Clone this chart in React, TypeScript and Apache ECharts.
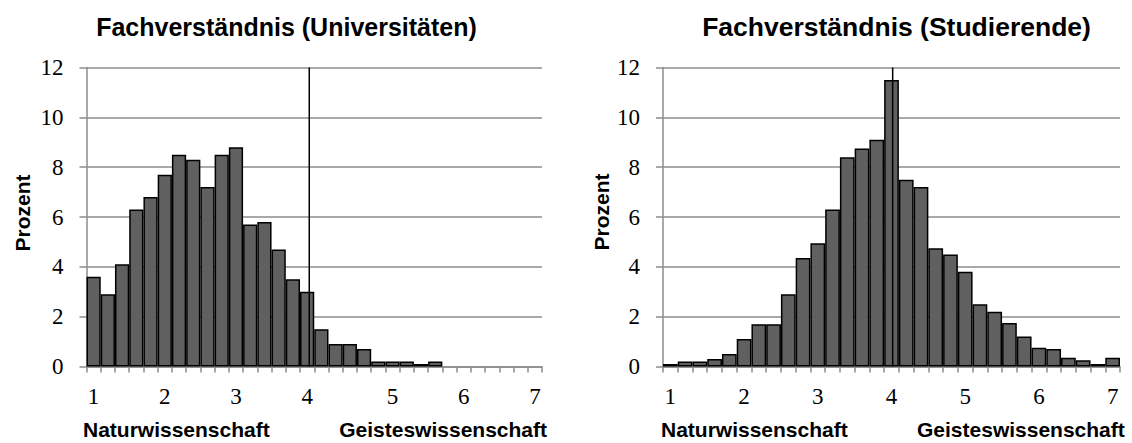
import React, { useEffect, useRef } from "react";
import * as echarts from "echarts";

const leftTitle = "Fachverständnis (Universitäten)";
const rightTitle = "Fachverständnis (Studierende)";
const yTitle = "Prozent";
const xLeftName = "Naturwissenschaft";
const xRightName = "Geisteswissenschaft";

const leftValues = [3.6, 2.9, 4.1, 6.3, 6.8, 7.7, 8.5, 8.3, 7.2, 8.5, 8.8, 5.7, 5.8, 4.7, 3.5, 3.0, 1.5, 0.9, 0.9, 0.7, 0.2, 0.2, 0.2, 0.1, 0.2, 0, 0, 0, 0, 0, 0, 0];
const leftTickText = ["1", "", "", "", "", "2", "", "", "", "", "3", "", "", "", "", "4", "", "", "", "", "", "5", "", "", "", "", "6", "", "", "", "", "7"];

const rightValues = [0.1, 0.2, 0.2, 0.3, 0.5, 1.1, 1.7, 1.7, 2.9, 4.35, 4.95, 6.3, 8.4, 8.75, 9.1, 11.5, 7.5, 7.2, 4.75, 4.5, 3.8, 2.5, 2.2, 1.75, 1.2, 0.75, 0.7, 0.35, 0.25, 0.1, 0.35];
const rightTickText = ["1", "", "", "", "", "2", "", "", "", "", "3", "", "", "", "", "4", "", "", "", "", "5", "", "", "", "", "6", "", "", "", "", "7"];

// position of the reference line "4" in bin units
const leftRefBin = 15.65;
const rightRefBin = 15.58;

const yTicks = [0, 2, 4, 6, 8, 10, 12];

const GRID_COLOR = "#8c8c8c";
const SERIF = "Liberation Serif";
const SANS = "Liberation Sans";

export default function App() {
  const ref = useRef<HTMLDivElement>(null);
  useEffect(() => {
    if (!ref.current) return;
    const chart = echarts.init(ref.current, undefined, { renderer: "svg" });

    const makeX = (gridIndex: number, tickText: string[]) => ({
      type: "category",
      gridIndex,
      data: tickText.map((_, i) => String(i)),
      boundaryGap: true,
      axisLine: { show: true, lineStyle: { color: GRID_COLOR, width: 1.5 } },
      axisTick: { show: true, interval: 0, length: 6, lineStyle: { color: GRID_COLOR, width: 1.5 } },
      axisLabel: {
        interval: 0,
        margin: 18,
        color: "#000",
        fontFamily: SERIF,
        fontSize: 23,
        formatter: (_v: string, i: number) => tickText[i],
      },
      splitLine: { show: false },
    });

    const makeXVal = (gridIndex: number, n: number) => ({
      type: "value",
      gridIndex,
      min: 0,
      max: n,
      show: false,
      splitLine: { show: false },
    });

    const makeY = (gridIndex: number) => ({
      type: "value",
      gridIndex,
      min: yTicks[0],
      max: yTicks[yTicks.length - 1],
      interval: 2,
      axisLine: { show: true, lineStyle: { color: GRID_COLOR, width: 1.5 } },
      axisTick: { show: true, length: 7, lineStyle: { color: GRID_COLOR, width: 1.5 } },
      axisLabel: { margin: 23, color: "#000", fontFamily: SERIF, fontSize: 23 },
      splitLine: { show: true, lineStyle: { color: GRID_COLOR, width: 1.5 } },
    });

    const barData = (vals: number[]) =>
      vals.map((v) => (v === 0 ? { value: 0, itemStyle: { borderWidth: 0 } } : v));

    const barSeries = (idx: number, vals: number[]) => ({
      type: "bar",
      xAxisIndex: idx * 2,
      yAxisIndex: idx,
      data: barData(vals),
      barCategoryGap: "0%",
      itemStyle: { color: "#606060", borderColor: "#000", borderWidth: 1.5 },
      z: 2,
    });

    const refLine = (idx: number, bin: number) => ({
      type: "line",
      xAxisIndex: idx * 2 + 1,
      yAxisIndex: idx,
      data: [
        [bin, yTicks[0]],
        [bin, yTicks[yTicks.length - 1]],
      ],
      symbol: "none",
      lineStyle: { color: "#000", width: 1.5 },
      z: 5,
    });

    const titleFont = (size: number) => `bold ${size}px "${SANS}", Arial, sans-serif`;

    chart.setOption({
      animation: false,
      backgroundColor: "#fff",
      grid: [
        { left: 86.5, top: 67.5, width: 455.5, height: 299 },
        { left: 663, top: 67.5, width: 457, height: 299 },
      ],
      xAxis: [
        makeX(0, leftTickText),
        makeXVal(0, leftValues.length),
        makeX(1, rightTickText),
        makeXVal(1, rightValues.length),
      ],
      yAxis: [makeY(0), makeY(1)],
      series: [
        barSeries(0, leftValues),
        refLine(0, leftRefBin),
        barSeries(1, rightValues),
        refLine(1, rightRefBin),
      ],
      graphic: [
        { type: "text", x: 286.5, y: 27, style: { text: leftTitle, align: "center", verticalAlign: "middle", font: titleFont(25), fill: "#000" } },
        { type: "text", x: 896.5, y: 27, style: { text: rightTitle, align: "center", verticalAlign: "middle", font: titleFont(26.5), fill: "#000" } },
        { type: "text", x: 22, y: 213, rotation: Math.PI / 2, style: { text: yTitle, align: "center", verticalAlign: "middle", font: titleFont(21), fill: "#000" } },
        { type: "text", x: 601, y: 212, rotation: Math.PI / 2, style: { text: yTitle, align: "center", verticalAlign: "middle", font: titleFont(21), fill: "#000" } },
        { type: "text", x: 83, y: 429, style: { text: xLeftName, align: "left", verticalAlign: "middle", font: titleFont(21), fill: "#000" } },
        { type: "text", x: 547, y: 429, style: { text: xRightName, align: "right", verticalAlign: "middle", font: titleFont(21), fill: "#000" } },
        { type: "text", x: 661, y: 429, style: { text: xLeftName, align: "left", verticalAlign: "middle", font: titleFont(21), fill: "#000" } },
        { type: "text", x: 917, y: 429, style: { text: xRightName, align: "left", verticalAlign: "middle", font: titleFont(21), fill: "#000" } },
      ],
    });
    return () => chart.dispose();
  }, []);
  return (
    <div
      ref={ref}
      style={{ position: "absolute", left: 0, top: 0, width: 1132, height: 443 }}
    />
  );
}
